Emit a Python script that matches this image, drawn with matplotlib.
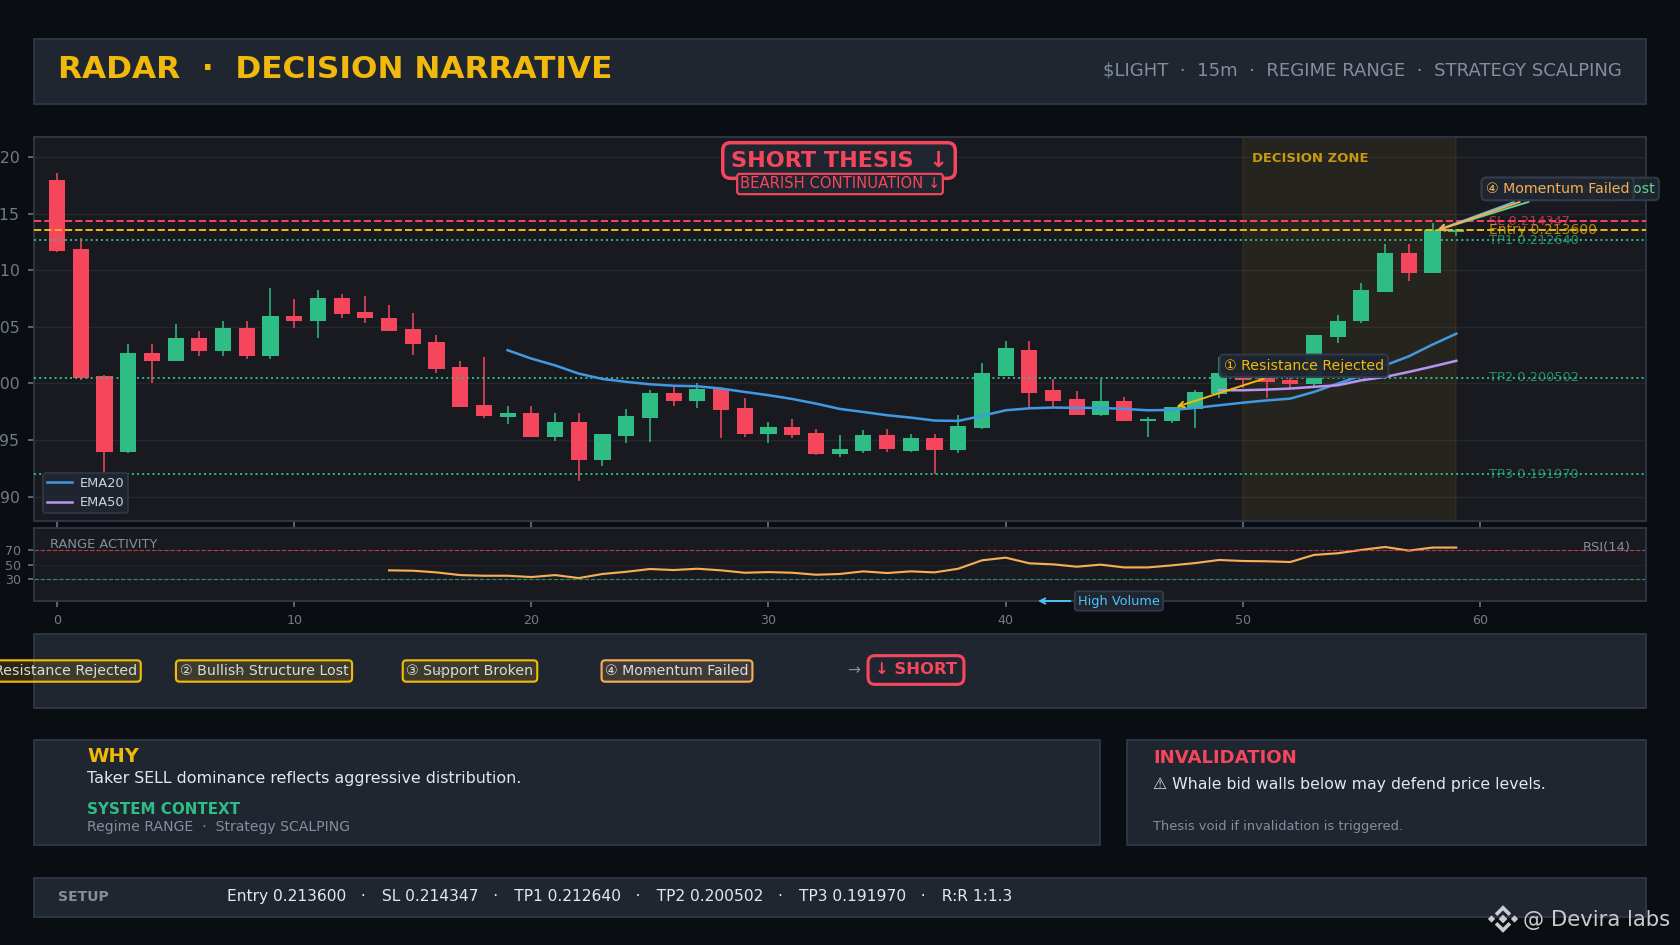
import numpy as np
import matplotlib
matplotlib.use('Agg')
import matplotlib.pyplot as plt
from matplotlib.colors import to_rgb
from matplotlib.patches import Rectangle, Polygon

# colours
BG = '#0a0e13'
PANEL = '#1f2630'
CHART = '#181a20'
EDGE = '#2d3644'
GOLD = '#f0b90b'
RED = '#f6465d'
GREEN = '#2ebd85'
GRAY = '#848e9c'
TICK = '#727b88'
TEXT = '#e2e8f0'
ORANGE = '#f6ad55'
BLUE = '#4299e1'
PURPLE = '#b794f4'

# candles, prices in 1/1000
opens = [217.97, 211.87, 200.64, 193.92, 202.67, 201.96, 204.0, 202.85, 204.88, 202.4,
         205.94, 205.5, 207.53, 206.3, 205.77, 204.8, 203.64, 201.43, 198.07, 197.01,
         197.37, 195.24, 196.57, 193.2, 195.33, 196.92, 199.13, 198.43, 199.55, 197.8,
         195.5, 196.13, 195.6, 193.74, 194.0, 195.42, 194.0, 195.15, 194.1, 196.04,
         200.64, 202.94, 199.4, 198.6, 197.19, 198.43, 196.66, 196.66, 197.72, 199.05,
         200.9, 200.55, 200.28, 199.93, 204.08, 205.5, 208.06, 211.5, 209.74, 213.43]
closes = [211.69, 200.49, 193.92, 202.67, 201.96, 204.0, 202.85, 204.88, 202.4, 205.94,
          205.5, 207.53, 206.12, 205.77, 204.62, 203.47, 201.26, 197.9, 197.1, 197.37,
          195.24, 196.57, 193.2, 195.5, 197.1, 199.13, 198.43, 199.5, 197.63, 195.5,
          196.13, 195.42, 193.74, 194.18, 195.42, 194.18, 195.15, 194.1, 196.22, 200.9,
          203.1, 199.2, 198.43, 197.19, 198.43, 196.66, 196.84, 197.9, 199.22, 200.9,
          200.28, 200.1, 199.93, 204.26, 205.5, 208.24, 211.5, 209.74, 213.55, 213.57]
highs = [218.59, 212.9, 200.73, 203.47, 203.47, 205.23, 204.6, 205.5, 205.5, 208.42,
         207.44, 208.24, 207.9, 207.7, 206.9, 206.2, 204.26, 202.0, 202.32, 197.98,
         197.98, 197.37, 197.37, 195.5, 197.72, 199.4, 199.75, 200.0, 199.7, 198.7,
         196.57, 196.84, 195.95, 195.42, 195.86, 195.95, 195.5, 195.5, 197.19, 201.8,
         203.73, 203.73, 200.37, 199.3, 200.37, 198.8, 197.01, 197.9, 199.4, 202.32,
         201.2, 201.2, 200.6, 204.3, 206.03, 208.86, 212.3, 212.3, 214.16, 213.66]
lows = [211.6, 200.28, 191.74, 193.83, 200.02, 201.96, 202.4, 202.4, 202.2, 202.2,
        204.88, 204.0, 205.77, 205.32, 204.62, 202.5, 200.9, 197.9, 196.92, 196.4,
        195.24, 194.89, 191.35, 192.68, 194.7, 194.8, 198.0, 197.8, 195.15, 195.24,
        194.7, 195.15, 193.65, 193.47, 193.83, 193.92, 193.92, 191.97, 193.83, 195.95,
        200.64, 197.8, 197.9, 197.19, 197.1, 196.66, 195.24, 196.48, 196.04, 198.7,
        199.6, 198.7, 199.6, 199.7, 203.55, 205.32, 208.06, 209.1, 209.74, 213.0]

ema20_x = list(range(19, 60))
ema20 = [202.94, 202.2, 201.6, 200.87, 200.4, 200.14, 199.93, 199.8, 199.75, 199.55,
         199.25, 198.96, 198.63, 198.22, 197.75, 197.48, 197.19, 196.98, 196.72, 196.69,
         197.13, 197.63, 197.8, 197.87, 197.84, 197.84, 197.75, 197.63, 197.66, 197.84,
         198.07, 198.3, 198.5, 198.66, 199.25, 199.99, 200.7, 201.6, 202.4, 203.44, 204.4]
ema50_x = list(range(49, 60))
ema50 = [199.4, 199.4, 199.46, 199.55, 199.7, 199.84, 200.28, 200.58, 201.02, 201.5, 202.0]

rsi_x = list(range(14, 60))
rsi = [42, 41.5, 39.2, 35.5, 34.6, 34.6, 32.8, 35.5, 31.4, 37, 40, 43.8, 42.4, 44.2, 42,
       38.7, 39.6, 38.7, 36, 37, 40.6, 38.3, 40.6, 39.2, 44.2, 55.7, 59.4, 51.6, 50.2, 47,
       49.8, 46, 46, 48.8, 52, 56.2, 54.8, 54.4, 53.4, 63.1, 65.4, 70, 74, 69, 73.2, 73.2]

level_names = ['SL', 'Entry', 'TP1', 'TP2', 'TP3']
level_prices = [0.214347, 0.2136, 0.21264, 0.200502, 0.19197]
level_colors = [RED, GOLD, GREEN, GREEN, GREEN]
level_styles = ['--', '--', ':', ':', ':']

W, H = 1680, 945
fig = plt.figure(figsize=(12, 6.75), dpi=140, facecolor=BG)


def px_axes(l, t, r, b, **kw):
    return fig.add_axes([l / W, 1 - b / H, (r - l) / W, (b - t) / H], **kw)


# full figure layer in pixels, for the panels and their texts
bg = px_axes(0, 0, W, H, zorder=0)
bg.set_xlim(0, W)
bg.set_ylim(H, 0)
bg.axis('off')


def panel(l, t, r, b):
    bg.add_patch(Rectangle((l, t), r - l, b - t, fc=PANEL, ec=EDGE, lw=1.0))


panel(34, 38.5, 1646, 104)
panel(34, 634, 1646, 708)
panel(34, 740, 1100, 845)
panel(1127, 740, 1646, 845)
panel(34, 878, 1646, 917)

bg.text(58, 70, 'RADAR  ·  DECISION NARRATIVE', color=GOLD, fontsize=16, fontweight='bold', va='center')
bg.text(1622, 70, '$LIGHT  ·  15m  ·  REGIME RANGE  ·  STRATEGY SCALPING', color=GRAY, fontsize=9.3,
        ha='right', va='center', parse_math=False)

# flow row
flow = [('① Resistance Rejected', 57, GOLD), ('② Bullish Structure Lost', 264, GOLD),
        ('③ Support Broken', 470, GOLD), ('④ Momentum Failed', 677, ORANGE)]
for label, cx, col in flow:
    bg.text(cx, 671, label, color='#d8dade', fontsize=7.28, ha='center', va='center', zorder=3,
            bbox=dict(boxstyle='round,pad=0.26', fc=(*to_rgb(col), 0.15), ec=col, lw=1.1))
for arrow_x in [239, 439, 648]:
    bg.text(arrow_x, 671, '→', color=GRAY, fontsize=6, ha='center', va='center', zorder=4)
bg.text(854, 671, '→', color=GRAY, fontsize=8, ha='center', va='center')
bg.text(916, 670, '↓ SHORT', color=RED, fontsize=8.4, fontweight='bold', ha='center', va='center',
        bbox=dict(boxstyle='round,pad=0.42', fc=PANEL, ec=RED, lw=1.6))

# why / invalidation / setup
bg.text(87, 757, 'WHY', color=GOLD, fontsize=10, fontweight='bold', va='center')
bg.text(87, 779, 'Taker SELL dominance reflects aggressive distribution.', color=TEXT, fontsize=8.2, va='center')
bg.text(87, 810, 'SYSTEM CONTEXT', color=GREEN, fontsize=7.8, fontweight='bold', va='center')
bg.text(87, 827, 'Regime RANGE  ·  Strategy SCALPING', color=GRAY, fontsize=7.18, va='center')
bg.text(1153, 758, 'INVALIDATION', color=RED, fontsize=9.3, fontweight='bold', va='center')
bg.text(1153, 784, '⚠ Whale bid walls below may defend price levels.', color=TEXT, fontsize=8.13, va='center')
bg.text(1153, 826.5, 'Thesis void if invalidation is triggered.', color=GRAY, fontsize=6.66, va='center')
bg.text(58, 897, 'SETUP', color=GRAY, fontsize=7.2, fontweight='bold', va='center')
sep = '   ·   \u200a'
bg.text(227, 897, sep.join(['Entry 0.213600', 'SL 0.214347', 'TP1 0.212640', 'TP2 0.200502', 'TP3 0.191970', 'R:R 1:1.3']),
        color=TEXT, fontsize=8, va='center')

# main chart
ax = px_axes(34, 137, 1646, 521, zorder=2, facecolor=CHART)
x = np.arange(len(opens))
o = np.array(opens) / 1000
c = np.array(closes) / 1000
up = c >= o
colors = np.where(up, GREEN, RED)
ax.vlines(x, np.array(lows) / 1000, np.array(highs) / 1000, colors=colors, lw=1.0, alpha=0.8, zorder=3)
ax.bar(x, np.abs(c - o), bottom=np.minimum(o, c), width=0.68, color=colors, zorder=3)
ax.axvspan(50, 59, color=GOLD, alpha=0.065, zorder=2)
ax.plot(ema20_x, np.array(ema20) / 1000, color=BLUE, lw=1.3, label='EMA20', zorder=4)
ax.plot(ema50_x, np.array(ema50) / 1000, color=PURPLE, lw=1.3, label='EMA50', zorder=4)

for name, price, col, ls in zip(level_names, level_prices, level_colors, level_styles):
    ax.axhline(price, color=col, ls=ls, lw=1.0, zorder=3)
    size = 7.2 if name == 'Entry' else 6.6
    ax.text(60.4, price, '%s %.6f' % (name, price), color=col, fontsize=size, alpha=0.7, va='center', zorder=3)

ax.set_xlim(-0.97, 67)
ax.set_ylim(0.18784, 0.22179)
ax.set_yticks([0.19, 0.195, 0.2, 0.205, 0.21, 0.215, 0.22])
ax.set_yticklabels(['0.190', '0.195', '0.200', '0.205', '0.210', '0.215', '0.220'])
ax.set_xticks(range(0, 70, 10))
ax.tick_params(axis='x', labelbottom=False, color=TICK, length=3, width=0.8)
ax.tick_params(axis='y', colors=TICK, labelsize=8.1, length=3, width=0.8, pad=4.5)
ax.grid(axis='y', color='#2b3139', lw=0.7, alpha=0.6, zorder=1)
ax.set_axisbelow(True)
for s in ax.spines.values():
    s.set_color(EDGE)
    s.set_linewidth(1.0)

leg = ax.legend(loc='lower left', fontsize=6.7, facecolor=PANEL, edgecolor=EDGE, labelcolor='#cbd5e0',
                framealpha=0.95, bbox_to_anchor=(0.0028, 0.0083), borderaxespad=0.35, borderpad=0.3,
                handlelength=1.9, handletextpad=0.6)
leg.set_zorder(6)

ax.text(839, 160.5, 'SHORT THESIS  ↓', color=RED, fontsize=11.5, fontweight='bold', ha='center', va='center',
        transform=bg.transData, zorder=7,
        bbox=dict(boxstyle='round,pad=0.35', fc=PANEL, ec=RED, lw=1.8))
ax.text(840, 184, 'BEARISH CONTINUATION ↓', color=RED, fontsize=7.6, ha='center', va='center',
        transform=bg.transData, zorder=8,
        bbox=dict(boxstyle='round,pad=0.18', fc=PANEL, ec=RED, lw=1.1))
ax.text(1252, 159, 'DECISION ZONE', color=GOLD, fontsize=6.75, fontweight='bold', alpha=0.8, va='center',
        transform=bg.transData, zorder=5)

box = dict(boxstyle='round,pad=0.3', fc=PANEL, ec='#323c4c', lw=1.0, alpha=0.95)
marks = [('② Bullish Structure Lost', '#68d391', 8), ('③ Support Broken', '#63b3ed', 9), ('④ Momentum Failed', ORANGE, 10)]
for label, col, z in marks:
    ax.annotate(label, xy=(58.2, 0.21355), xytext=(60.25, 0.2172), color=col, fontsize=7.28, va='center', ha='left',
                bbox=box, zorder=z, annotation_clip=False,
                arrowprops=dict(arrowstyle='->', color=col, lw=1.0, shrinkB=0))
ax.annotate('① Resistance Rejected', xy=(47.2, 0.19793), xytext=(49.2, 0.20156), color=GOLD, fontsize=7.28, va='center',
            ha='left', bbox=box, zorder=7, arrowprops=dict(arrowstyle='->', color=GOLD, lw=1.0, shrinkB=0))

# rsi
ax2 = px_axes(34, 528, 1646, 601, zorder=3, facecolor=CHART)
ax2.plot(rsi_x, rsi, color=ORANGE, lw=1.1)
ax2.axhline(70, color=RED, ls='--', lw=0.6, alpha=0.7)
ax2.axhline(30, color=GREEN, ls='--', lw=0.6, alpha=0.7)
ax2.set_xlim(-0.97, 67)
ax2.set_ylim(0, 100)
ax2.set_yticks([30, 50, 70])
ax2.set_xticks(range(0, 70, 10))
ax2.tick_params(colors=TICK, labelsize=6.5, length=3, width=0.8)
ax2.grid(axis='y', color='#2b3139', lw=0.5, alpha=0.4)
for s in ax2.spines.values():
    s.set_color(EDGE)
    s.set_linewidth(1.0)
ax2.text(50, 545, 'RANGE ACTIVITY', color=GRAY, fontsize=6.7, va='center', transform=bg.transData)
ax2.text(1631, 548, 'RSI(14)', color=GRAY, fontsize=6.7, ha='right', va='center', transform=bg.transData)
ax2.annotate('High Volume', xy=(41.2, 0), xytext=(43.05, 0), color='#4fc3f7', fontsize=6.65, va='center', ha='left',
             annotation_clip=False, zorder=6,
             bbox=dict(boxstyle='round,pad=0.25', fc=PANEL, ec='#323c4c', lw=0.9),
             arrowprops=dict(arrowstyle='->', color='#4fc3f7', lw=1.0))

# watermark on top of everything
top = px_axes(0, 0, W, H, zorder=9)
top.set_xlim(0, W)
top.set_ylim(H, 0)
top.axis('off')
WM = '#c9cdd2'
top.text(1670, 920, '@ Devira labs', color=WM, fontsize=10.9, ha='right', va='center')
# logo: centre diamond, two side diamonds, two chevrons
lx, ly = 1503, 919
top.scatter([lx, lx - 11.5, lx + 11.5], [ly, ly, ly], marker='D', s=[10, 7, 7], color=WM, linewidths=0)
chevron = np.array([[-8.2, -5.6], [0, -13.8], [8.2, -5.6], [5.6, -3], [0, -8.6], [-5.6, -3]])
for flip in [1, -1]:
    top.add_patch(Polygon(chevron * [1, flip] + [lx, ly], closed=True, fc=WM, ec='none'))

fig.savefig('out.png', dpi=140, facecolor=BG)
